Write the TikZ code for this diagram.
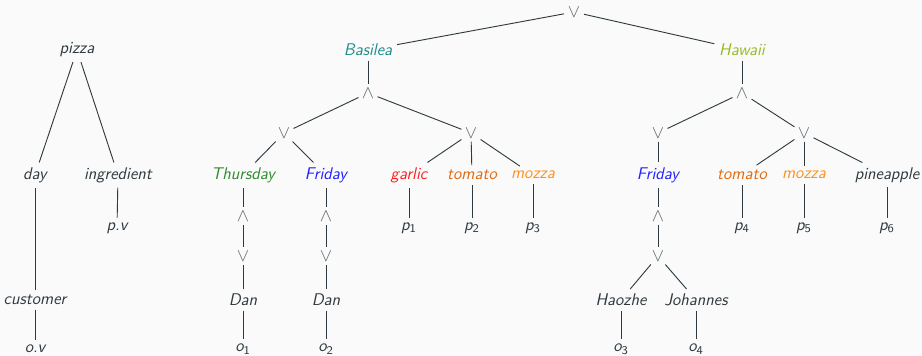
\documentclass[tikz,border=0pt]{standalone}
\definecolor{bg}{HTML}{FAFAFA}
\definecolor{txt}{HTML}{2E3A40}
\definecolor{opc}{HTML}{5F6A70}
\definecolor{linec}{HTML}{2E3A40}
\definecolor{cteal}{HTML}{1E8C8C}
\definecolor{clime}{HTML}{99BB22}
\definecolor{cgreen}{HTML}{2E8B2E}
\definecolor{cblue}{HTML}{2020FF}
\definecolor{cred}{HTML}{FF2020}
\definecolor{ctomato}{HTML}{E06A10}
\definecolor{cmozza}{HTML}{FF9020}
\newcommand{\sub}[2]{#1\textsubscript{\upshape #2}}
\begin{document}
\begin{tikzpicture}[x=0.65pt,y=-0.65pt,
  every node/.style={font=\fontsize{11}{13}\selectfont\sffamily\itshape, text=txt, inner sep=3pt},
  op/.style={text=opc, font=\fontsize{13}{15}\selectfont\sffamily, inner sep=2pt},
  conn/.style={draw=linec, line width=0.6pt}]
\fill[bg] (0,0) rectangle (922,356);
\useasboundingbox (0,0) rectangle (922,356);
% left tree
\node (pizza) at (77,50) {pizza};
\node (day) at (35,175) {day};
\node (ingr) at (118,175) {ingredient};
\node (pv) at (117,228) {p.v};
\node (cust) at (35,300) {customer};
\node (ov) at (35,349) {o.v};
\draw[conn] (pizza) -- (day);
\draw[conn] (pizza) -- (ingr);
\draw[conn] (ingr) -- (pv);
\draw[conn] (day) -- (cust);
\draw[conn] (cust) -- (ov);
% right tree
\node[op, inner sep=0.5pt, outer sep=2pt] (root) at (574,12) {$\vee$};
\node[text=cteal] (bas) at (368,50) {Basilea};
\node[text=clime] (haw) at (742,50) {Hawaii};
\draw[conn] (root) -- (bas);
\draw[conn] (root) -- (haw);
% Basilea
\node[op] (bA) at (368,93) {$\wedge$};
\node[op] (bO1) at (284,133) {$\vee$};
\node[op] (bO2) at (471,133) {$\vee$};
\draw[conn] (bas) -- (bA);
\draw[conn] (bA) -- (bO1);
\draw[conn] (bA) -- (bO2);
\node[text=cgreen] (thu) at (243,175) {Thursday};
\node[text=cblue] (fri1) at (326,175) {Friday};
\draw[conn] (bO1) -- (thu);
\draw[conn] (bO1) -- (fri1);
\node[text=cred] (gar) at (409,175) {garlic};
\node[text=ctomato] (tom1) at (472,175) {tomato};
\node[text=cmozza] (moz1) at (533,175) {mozza};
\draw[conn] (bO2) -- (gar);
\draw[conn] (bO2) -- (tom1);
\draw[conn] (bO2) -- (moz1);
\node (p1) at (409,228) {\sub{p}{1}};
\node (p2) at (472,228) {\sub{p}{2}};
\node (p3) at (533,228) {\sub{p}{3}};
\draw[conn] (gar) -- (p1);
\draw[conn] (tom1) -- (p2);
\draw[conn] (moz1) -- (p3);
\node[op] (tA) at (243,216) {$\wedge$};
\node[op] (tO) at (243,256) {$\vee$};
\node (dan1) at (243,300) {Dan};
\node (o1) at (243,349) {\sub{o}{1}};
\draw[conn] (thu) -- (tA);
\draw[conn] (tA) -- (tO);
\draw[conn] (tO) -- (dan1);
\draw[conn] (dan1) -- (o1);
\node[op] (fA) at (326,216) {$\wedge$};
\node[op] (fO) at (326,256) {$\vee$};
\node (dan2) at (326,300) {Dan};
\node (o2) at (326,349) {\sub{o}{2}};
\draw[conn] (fri1) -- (fA);
\draw[conn] (fA) -- (fO);
\draw[conn] (fO) -- (dan2);
\draw[conn] (dan2) -- (o2);
% Hawaii
\node[op] (hA) at (742,93) {$\wedge$};
\node[op] (hO1) at (658,133) {$\vee$};
\node[op] (hO2) at (804,133) {$\vee$};
\draw[conn] (haw) -- (hA);
\draw[conn] (hA) -- (hO1);
\draw[conn] (hA) -- (hO2);
\node[text=cblue] (fri2) at (658,175) {Friday};
\draw[conn] (hO1) -- (fri2);
\node[text=ctomato] (tom2) at (742,175) {tomato};
\node[text=cmozza] (moz2) at (804,175) {mozza};
\node (pine) at (887,175) {pineapple};
\draw[conn] (hO2) -- (tom2);
\draw[conn] (hO2) -- (moz2);
\draw[conn] (hO2) -- (pine);
\node (p4) at (742,228) {\sub{p}{4}};
\node (p5) at (804,228) {\sub{p}{5}};
\node (p6) at (887,228) {\sub{p}{6}};
\draw[conn] (tom2) -- (p4);
\draw[conn] (moz2) -- (p5);
\draw[conn] (pine) -- (p6);
\node[op] (hfA) at (658,216) {$\wedge$};
\node[op] (hfO) at (658,256) {$\vee$};
\draw[conn] (fri2) -- (hfA);
\draw[conn] (hfA) -- (hfO);
\node (hao) at (621,300) {Haozhe};
\node (joh) at (696,300) {Johannes};
\draw[conn] (hfO) -- (hao);
\draw[conn] (hfO) -- (joh);
\node (o3) at (621,349) {\sub{o}{3}};
\node (o4) at (696,349) {\sub{o}{4}};
\draw[conn] (hao) -- (o3);
\draw[conn] (joh) -- (o4);
\end{tikzpicture}
\end{document}
